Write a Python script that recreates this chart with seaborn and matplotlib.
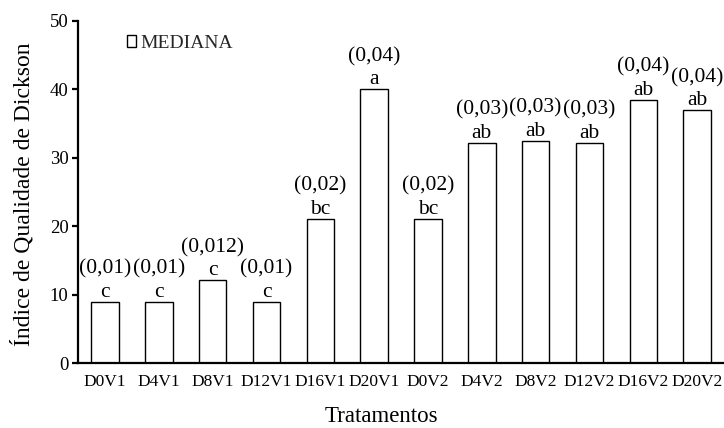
import matplotlib
matplotlib.use("Agg")
import matplotlib.pyplot as plt
import seaborn as sns
import pandas as pd

# Treatments, median Dickson quality index (bar heights) and labels above bars
tratamentos = ["D0V1", "D4V1", "D8V1", "D12V1", "D16V1", "D20V1",
               "D0V2", "D4V2", "D8V2", "D12V2", "D16V2", "D20V2"]
mediana = [9.0, 9.0, 12.1, 9.0, 21.1, 40.0, 21.1, 32.2, 32.5, 32.2, 38.5, 36.9]
valores_iqd = ["(0,01)", "(0,01)", "(0,012)", "(0,01)", "(0,02)", "(0,04)",
               "(0,02)", "(0,03)", "(0,03)", "(0,03)", "(0,04)", "(0,04)"]
letras = ["c", "c", "c", "c", "bc", "a", "bc", "ab", "ab", "ab", "ab", "ab"]
y_ticks = [0, 10, 20, 30, 40, 50]

df = pd.DataFrame({"Tratamento": tratamentos, "Mediana": mediana})

sns.set_style("ticks")
plt.rcParams["font.family"] = ["Liberation Serif", "DejaVu Serif"]

fig = plt.figure(figsize=(7.24, 4.28), dpi=100)
ax = fig.add_axes([0.108, 0.151, 0.892, 0.8006])

sns.barplot(data=df, x="Tratamento", y="Mediana", color="white",
            saturation=1, edgecolor="black", linewidth=1.0, width=0.51,
            errorbar=None, label="MEDIANA", ax=ax)

for i, (v, t, l) in enumerate(zip(mediana, valores_iqd, letras)):
    ax.annotate(f"{t}\n{l}", xy=(i, v), xytext=(0, 0),
                textcoords="offset points", ha="center", va="bottom",
                fontsize=15.5, linespacing=1.3, color="black",
                annotation_clip=False)

ax.set_ylim(0, 50)
ax.set_yticks(y_ticks)
ax.set_xlim(-0.5, len(tratamentos) - 0.5)

for side in ("top", "right"):
    ax.spines[side].set_visible(False)
for side in ("left", "bottom"):
    ax.spines[side].set_linewidth(1.6)
    ax.spines[side].set_color("black")

ax.tick_params(axis="y", direction="out", length=4, width=1.6,
               labelsize=13.5, pad=3, colors="black")
ax.tick_params(axis="x", length=0, labelsize=12.5, pad=8, colors="black")

ax.set_xlabel("Tratamentos", fontsize=16.5, color="black")
ax.set_ylabel("Índice de Qualidade de Dickson", fontsize=17, color="black")
ax.xaxis.set_label_coords(0.4696, -0.124)
ax.yaxis.set_label_coords(-0.067, 0.495)

ax.legend(loc="center left", bbox_to_anchor=(0.075, 0.933), frameon=False,
          fontsize=14, handlelength=0.5, handleheight=0.55,
          handletextpad=0.2, borderpad=0, borderaxespad=0)

fig.savefig("out.png", dpi=100)
